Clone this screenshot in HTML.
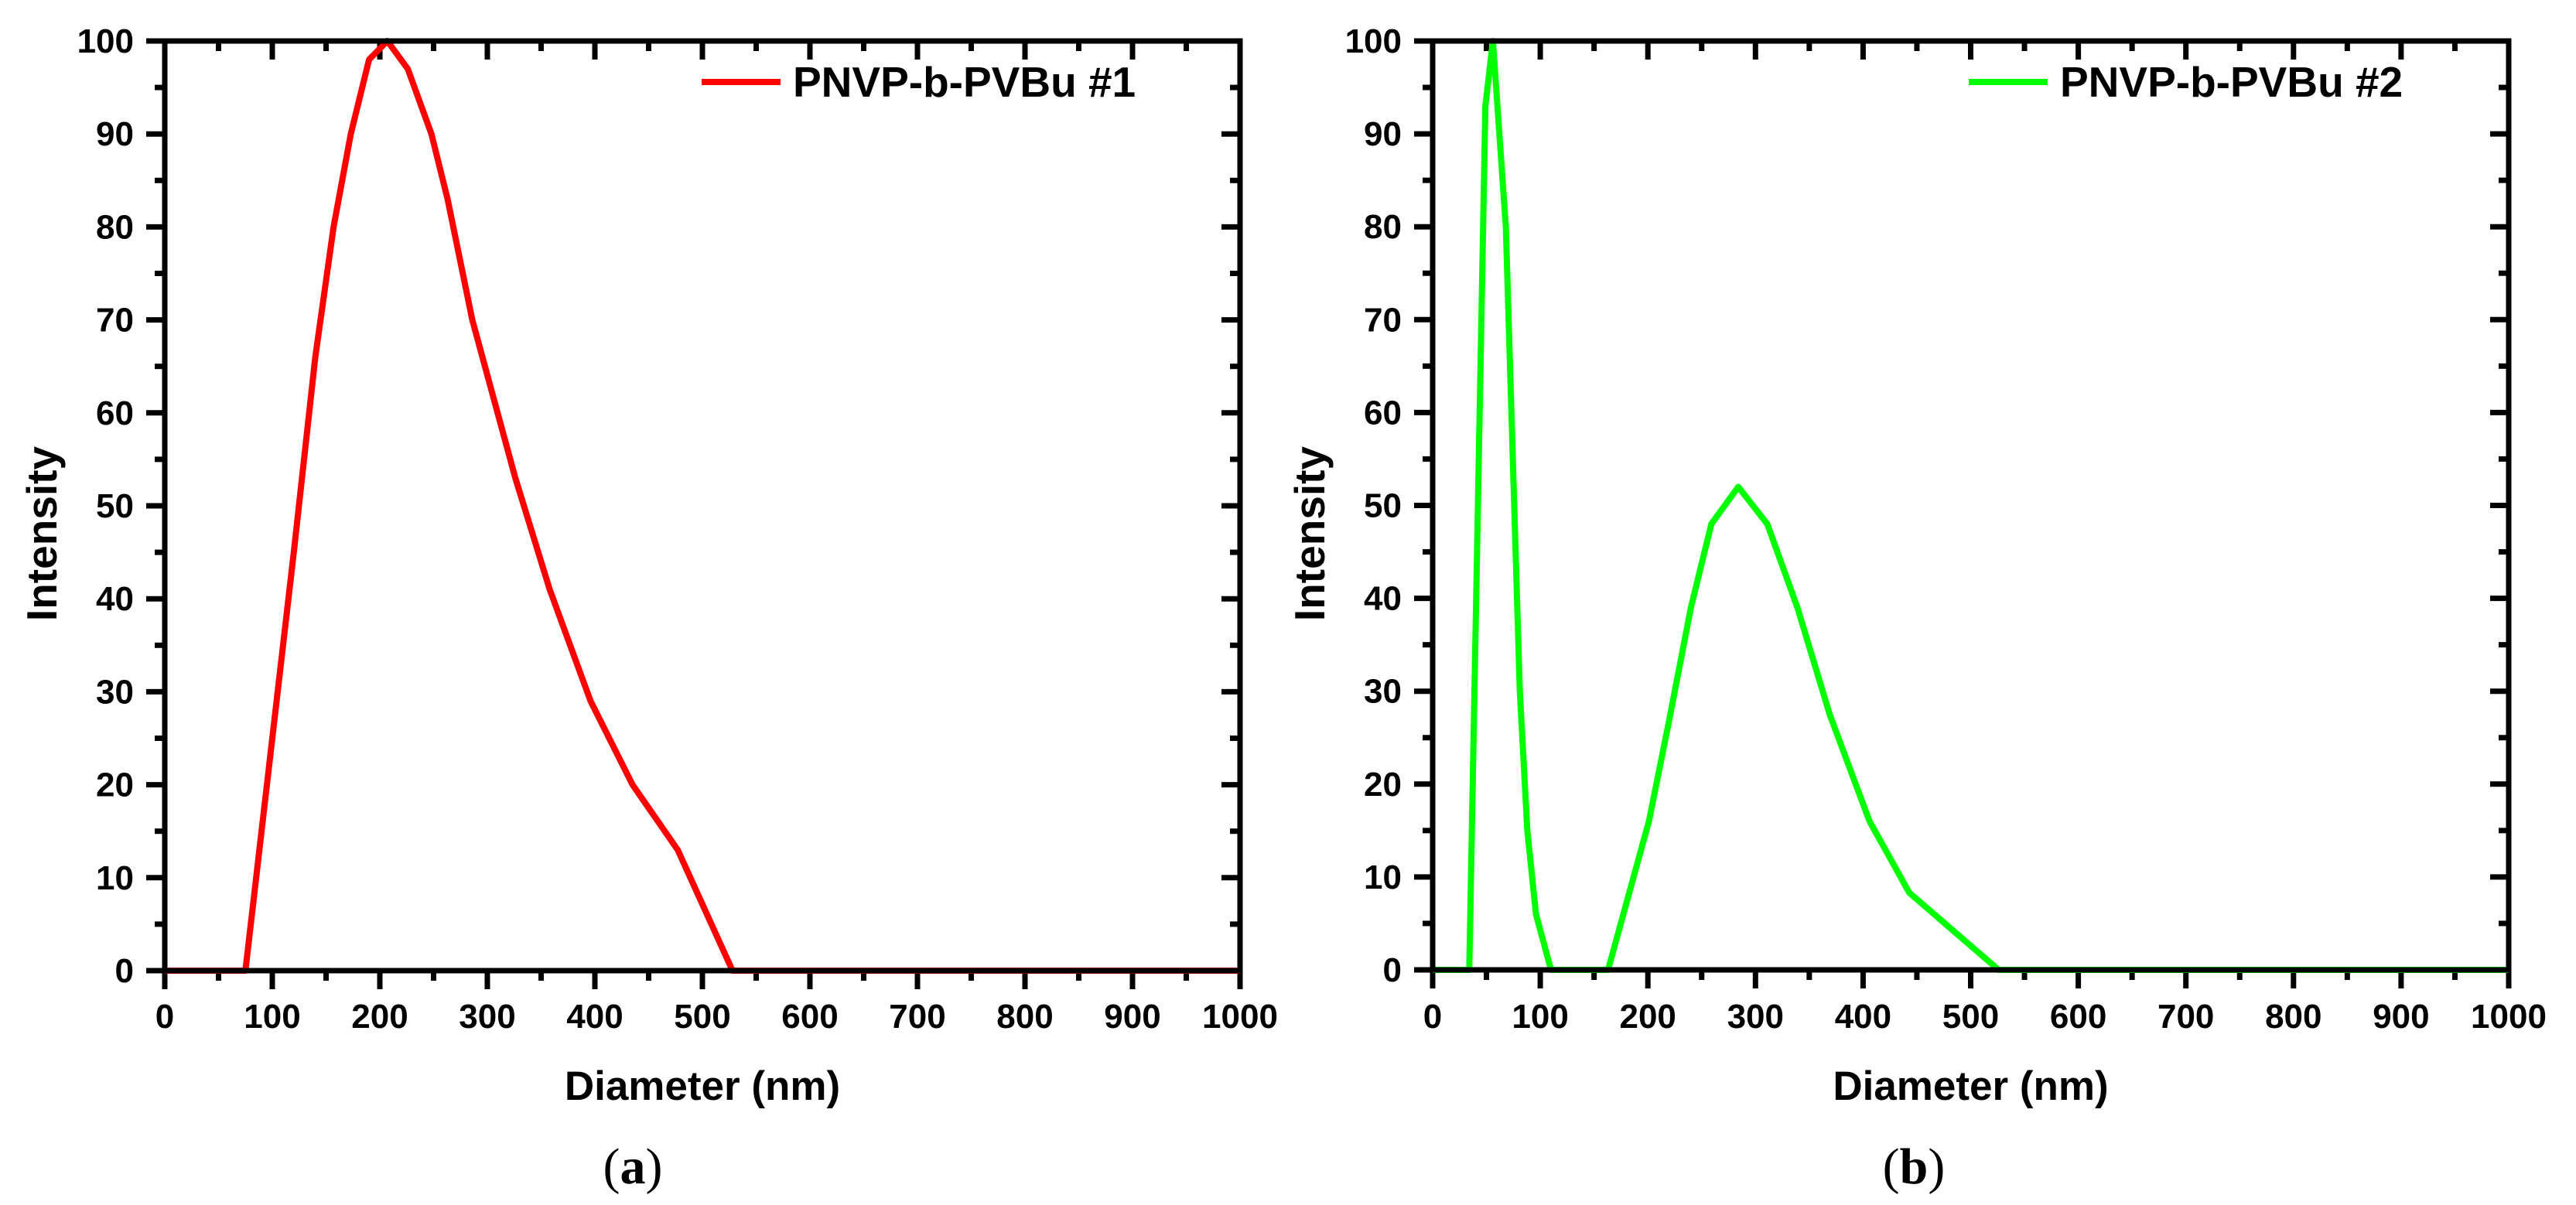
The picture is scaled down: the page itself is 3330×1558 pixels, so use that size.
<!DOCTYPE html>
<html><head><meta charset="utf-8"><style>
html,body{margin:0;padding:0;background:#fff;}
svg{display:block;font-family:"Liberation Sans",Arial,sans-serif;}
</style></head><body>
<svg id="fig" width="3330" height="1558" viewBox="0 0 3330 1558" xmlns="http://www.w3.org/2000/svg"></svg>
<script>
const xTicks=[0,100,200,300,400,500,600,700,800,900,1000];
const yTicks=[0,10,20,30,40,50,60,70,80,90,100];
const seriesAx=[0,75,100,120,140,157,173,190,207,226,248,263,286,326,358,396,435,477,528,1000];
const seriesAy=[0,0,25,45,66,80,90,98,100,97,90,83,70,53,41,29,20,13,0,0];
const seriesBx=[0,34,49,56,68,81,88,96,110,163,201,220,240,259,284,311,339,369,406,443,526,1000];
const seriesBy=[0,0,93,100,80,30,15,6,0,0,16,27,39,48,52,48,39,27.5,16,8.3,0,0];
const NS='http://www.w3.org/2000/svg';
const svg=document.getElementById('fig');
function mk(tag,attrs,parent){const e=document.createElementNS(NS,tag);for(const k in attrs)e.setAttribute(k,attrs[k]);(parent||svg).appendChild(e);return e;}
function panel(id,L,R,T,B,xs,ys,color,legend,legX,letter,letX){
  const g=mk('g',{});
  
  
  const X=v=>L+(R-L)*v/1000, Y=v=>B-(B-T)*v/100;
  for(let v=0;v<=1000;v+=50){
    const maj=v%100===0, len=maj?24:13;
    const t1=mk('line',{x1:X(v),x2:X(v),y1:B,y2:B+len,stroke:'#000','stroke-width':7},g);
    
    
    const t2=mk('line',{x1:X(v),x2:X(v),y1:T,y2:T+len,stroke:'#000','stroke-width':7},g);
    
    
  }
  for(let v=0;v<=100;v+=5){
    const maj=v%10===0, len=maj?24:13;
    const t1=mk('line',{x1:L,x2:L-len,y1:Y(v),y2:Y(v),stroke:'#000','stroke-width':7},g);
    
    
    const t2=mk('line',{x1:R,x2:R-len,y1:Y(v),y2:Y(v),stroke:'#000','stroke-width':7},g);
    
    
  }
  xTicks.forEach(v=>{const t=mk('text',{x:X(v),y:1329,'font-size':44,'font-weight':'bold','text-anchor':'middle'},g);t.textContent=v;
    
    });
  yTicks.forEach(v=>{const t=mk('text',{x:L-40,y:Y(v)+15,'font-size':44,'font-weight':'bold','text-anchor':'end'},g);t.textContent=v;
    
    });
  const p=mk('polyline',{points:xs.map((x,i)=>X(x)+','+Y(ys[i])).join(' '),fill:'none',stroke:color,'stroke-width':8,'stroke-linejoin':'round'},g);
  
  
  const f=mk('rect',{x:L,y:T,width:R-L,height:B-T,fill:'none',stroke:'#000','stroke-width':7},g);
  
  
  const ll=mk('line',{x1:legX,x2:legX+102,y1:106,y2:106,stroke:color,'stroke-width':8},g);
  
  
  const lt=mk('text',{x:legX+118,y:125,'font-size':55,'font-weight':'bold'},g);lt.textContent=legend;
  
  
  const xt=mk('text',{x:(L+R)/2,y:1422,'font-size':53,'font-weight':'bold','text-anchor':'middle'},g);xt.textContent='Diameter (nm)';
  
  
  const yx=L-140;
  const yt=mk('text',{x:yx,y:690,'font-size':55,'font-weight':'bold','text-anchor':'middle',transform:`rotate(-90 ${yx} 690)`},g);yt.textContent='Intensity';
  
  
  const lc=mk('text',{x:letX,y:1530,'font-size':66,'text-anchor':'middle','font-family':'Liberation Serif,serif'},g);
  lc.innerHTML='(<tspan font-weight="bold">'+letter+'</tspan>)';
  
  
}
panel('a',213,1603,53,1255,seriesAx,seriesAy,'#ff0000','PNVP-b-PVBu #1',907,'a',818);
panel('b',1852,3243,53,1254,seriesBx,seriesBy,'#00ff00','PNVP-b-PVBu #2',2545,'b',2474);
</script>
</body></html>
